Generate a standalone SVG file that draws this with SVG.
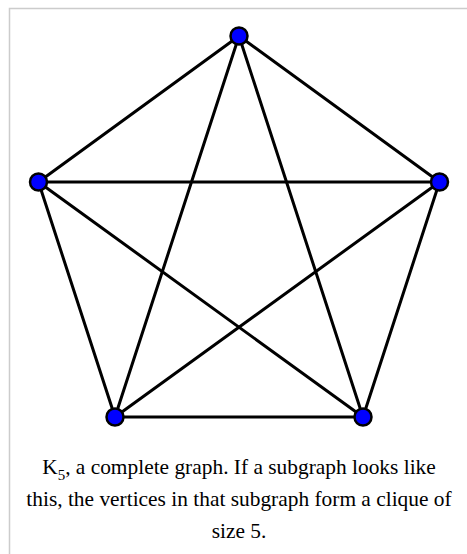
<svg xmlns="http://www.w3.org/2000/svg" width="467" height="554" viewBox="0 0 467 554">
<style>
.edge{stroke:#000;stroke-width:3;stroke-linecap:round}
.v{fill:#0000ff;stroke:#000;stroke-width:2.5}
.cap{font-family:"Liberation Serif","Times New Roman",serif;font-size:21.4px;fill:#000;text-anchor:middle}
</style>
<rect x="0" y="0" width="467" height="554" fill="#fff"/>
<path d="M9.5 554 V8.5 H467" fill="none" stroke="#cccccc" stroke-width="1.5"/>
<g id="edges">
<line class="edge" x1="239" y1="36" x2="38.5" y2="182"/>
<line class="edge" x1="239" y1="36" x2="439.5" y2="182"/>
<line class="edge" x1="239" y1="36" x2="115" y2="417"/>
<line class="edge" x1="239" y1="36" x2="363" y2="417"/>
<line class="edge" x1="38.5" y1="182" x2="439.5" y2="182"/>
<line class="edge" x1="38.5" y1="182" x2="115" y2="417"/>
<line class="edge" x1="38.5" y1="182" x2="363" y2="417"/>
<line class="edge" x1="439.5" y1="182" x2="115" y2="417"/>
<line class="edge" x1="439.5" y1="182" x2="363" y2="417"/>
<line class="edge" x1="115" y1="417" x2="363" y2="417"/>
</g>
<g id="v1"><circle class="v" cx="239" cy="36" r="8.5"/></g>
<g id="v2"><circle class="v" cx="38.5" cy="182" r="8.5"/></g>
<g id="v3"><circle class="v" cx="439.5" cy="182" r="8.5"/></g>
<g id="v4"><circle class="v" cx="115" cy="417" r="8.5"/></g>
<g id="v5"><circle class="v" cx="363" cy="417" r="8.5"/></g>
<g id="caption">
<text class="cap" x="239" y="474">K<tspan font-size="15" dy="6">5</tspan><tspan dy="-6">, a complete graph. If a subgraph looks like</tspan></text>
<text class="cap" x="239" y="506">this, the vertices in that subgraph form a clique of</text>
<text class="cap" x="239" y="538">size 5.</text>
</g>
</svg>
